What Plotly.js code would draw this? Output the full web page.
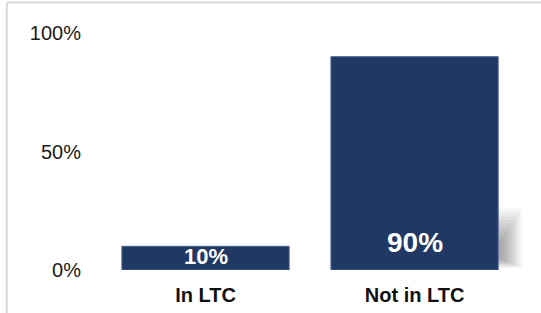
<!DOCTYPE html>
<html>
<head>
<meta charset="utf-8">
<script src="https://cdn.plot.ly/plotly-3.0.1.min.js"></script>
<style>
html,body{margin:0;padding:0;background:#fff;}
#chart{width:541px;height:313px;}
</style>
</head>
<body>
<div id="chart"></div>
<script>
var categories = ["In LTC", "Not in LTC"];
var values = [10, 90];
var valueLabels = ["10%", "90%"];
var yTickVals = [0, 50, 100];
var yTickText = ["0%", "50%", "100%"];

var barColor = "#203864";

var trace = {
  type: "bar",
  x: categories,
  y: values,
  marker: {color: barColor, line: {color: "#4d6291", width: 1}},
  hoverinfo: "none"
};

var labelSizes = [22, 28];
var labelShift = [14, 28];
var annotations = categories.map(function(c, i){
  return {
    x: c, y: 0, xref: "x", yref: "y",
    text: "<b>" + valueLabels[i] + "</b>",
    showarrow: false, yanchor: "middle", yshift: labelShift[i],
    font: {family: "Liberation Sans, Arial, sans-serif", size: labelSizes[i], color: "#ffffff"}
  };
});

// soft shadow to the right of the tallest bar (layered translucent rects)
var shapes = [];
var pxX = 1 / 210.5, pxY = 100 / 237;
var barRight = categories.length - 1 + 0.4;
for (var k = 0; k < 12; k++) {
  var sw = 24 - k * 1.8;
  var sTop = 62 - k * 3;
  var sBot = 2 + k * 0.8;
  shapes.push({
    type: "rect", xref: "x", yref: "y", layer: "below",
    x0: barRight - 4 * pxX, x1: barRight + sw * pxX,
    y0: sBot * pxY, y1: sTop * pxY,
    fillcolor: "rgba(0,0,0,0.03)", line: {width: 0}
  });
}
// frame lines
shapes.push({type: "line", xref: "paper", yref: "paper", x0: -0.2238, x1: -0.2238, y0: -0.3, y1: 1.1287,
  line: {color: "#d9d9d9", width: 2}});
shapes.push({type: "line", xref: "paper", yref: "paper", x0: -0.2238, x1: 1.2, y0: 1.1287, y1: 1.1287,
  line: {color: "#d9d9d9", width: 2}});

var layout = {
  width: 541, height: 313,
  margin: {l: 101, r: 19, t: 33, b: 43},
  paper_bgcolor: "#ffffff", plot_bgcolor: "rgba(0,0,0,0)",
  bargap: 0.2,
  showlegend: false,
  font: {family: "Liberation Sans, Arial, sans-serif", color: "#1a1a1a"},
  xaxis: {
    type: "category",
    showgrid: false, zeroline: false, showline: false, ticks: "",
    tickfont: {family: "Liberation Sans, Arial, sans-serif", size: 20, color: "#111111", weight: "bold"},
    ticklabelstandoff: 11,
    fixedrange: true
  },
  yaxis: {
    range: [0, 100],
    tickvals: yTickVals, ticktext: yTickText,
    showgrid: false, zeroline: false, showline: false, ticks: "",
    tickfont: {family: "Liberation Sans, Arial, sans-serif", size: 20, color: "#1a1a1a"},
    ticklabelstandoff: 19,
    fixedrange: true
  },
  annotations: annotations,
  shapes: shapes
};

Plotly.newPlot("chart", [trace], layout, {displayModeBar: false, staticPlot: true});
</script>
</body>
</html>
